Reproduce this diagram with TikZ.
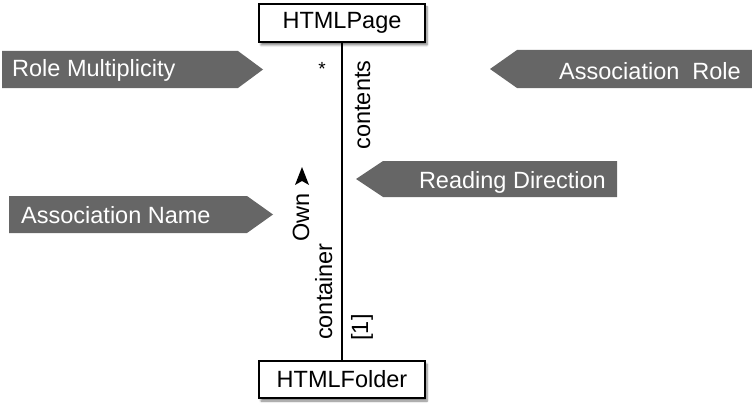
\documentclass[tikz,border=0pt]{standalone}
\usepackage{fontspec}
\setmainfont{Liberation Sans}
\usetikzlibrary{shadows.blur}
\definecolor{labelgray}{HTML}{666666}
\tikzset{
  classbox/.style={draw, line width=1.8pt, fill=white, minimum width=166pt,
    minimum height=38pt, inner sep=0pt,
    blur shadow={shadow xshift=2pt, shadow yshift=-3pt, shadow blur steps=6, shadow opacity=50}},
  pointerfill/.style={fill=labelgray},
  lbl/.style={text=white, inner sep=0pt},
  vlabel/.style={rotate=90, anchor=base, inner sep=0pt},
  assoc/.style={line width=1.3pt}
}
\begin{document}
\begin{tikzpicture}[x=1pt,y=-1pt,font=\fontsize{23.5}{27}\selectfont]
\useasboundingbox (0,0) rectangle (752,404);
% classes
\node[classbox] (page) at (342,23) {HTMLPage};
\node[classbox, minimum height=37pt] (folder) at (342,379.5) {HTMLFolder};
\draw[assoc] (page) -- (folder);
% association adornments
\node[anchor=base, inner sep=0pt, font=\fontsize{19}{22}\selectfont] (mult) at (322,75) {*};
\node[vlabel] (contents) at (370,105) {contents};
\node[vlabel] (own) at (309,217.5) {Own};
\node[vlabel] (container) at (332,291.5) {container};
\node[vlabel] (one) at (368,327.5) {[1]};
\coordinate (dirtip) at (302,167);
\fill (dirtip) -- (309,185) -- (302,181) -- (295,185) -- cycle;
% pointers
\fill[pointerfill] (2,51) -- (238,51) -- (263,69.5) -- (238,88) -- (2,88) -- cycle;
\node[lbl, anchor=base west] (rm) at (12,77) {Role Multiplicity};
\fill[pointerfill] (752,50) -- (517,50) -- (490,69) -- (517,88) -- (752,88) -- cycle;
\node[lbl, anchor=base east] (ar) at (741,79) {Association\ \ Role};
\fill[pointerfill] (617,161) -- (383,161) -- (356,179) -- (383,197) -- (617,197) -- cycle;
\node[lbl, anchor=base east] (rd) at (606,188) {Reading Direction};
\fill[pointerfill] (9,196) -- (247,196) -- (273,214.5) -- (247,233) -- (9,233) -- cycle;
\node[lbl, anchor=base west] (an) at (21,223) {Association Name};
\end{tikzpicture}
\end{document}
